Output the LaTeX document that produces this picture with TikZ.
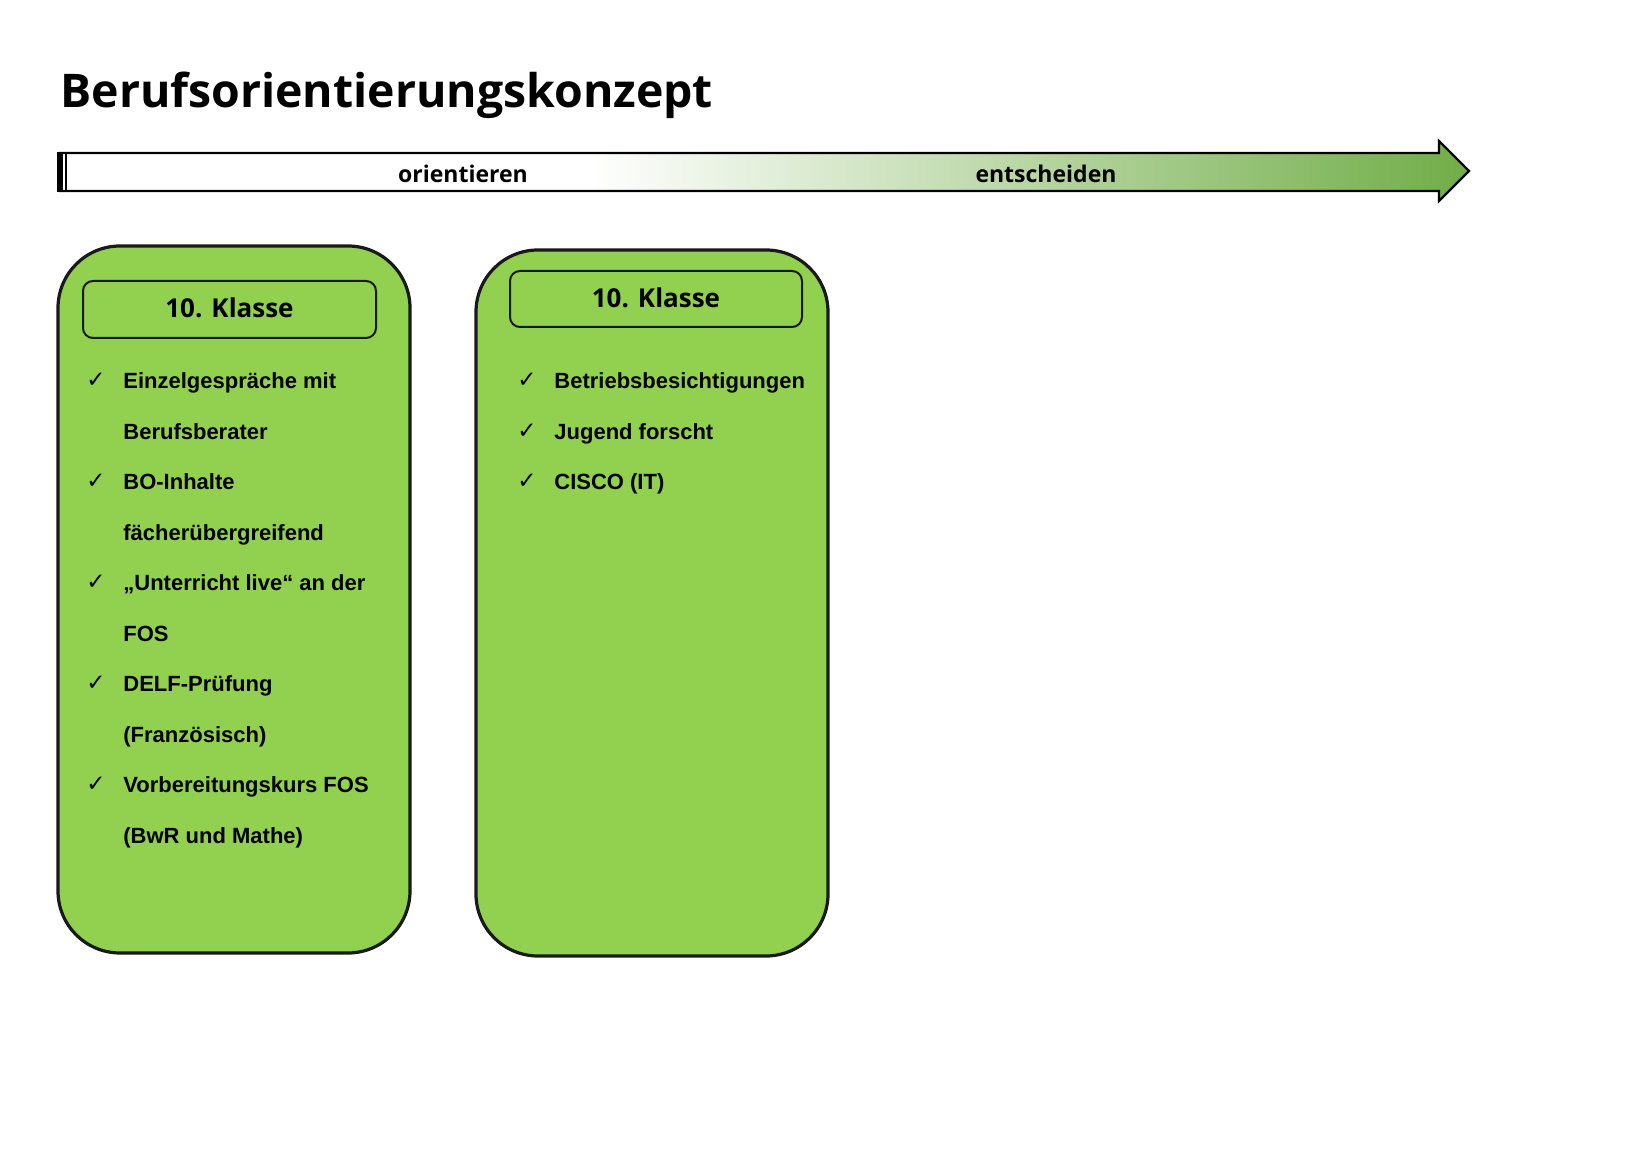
\documentclass[tikz,border=0pt]{standalone}
\usepackage{fontspec}
\setmainfont{Liberation Sans}
\newfontfamily\comicf{Open Sans}
\newfontfamily\symf{DejaVu Sans}
\definecolor{boxgreen}{RGB}{146,208,80}
\definecolor{arrowgreen}{RGB}{112,173,71}
\begin{document}
\begin{tikzpicture}[x=0.5pt,y=-0.5pt,
  bigbox/.style={draw=black!90,line width=1.6pt,fill=boxgreen,rounded corners=31pt},
  headbox/.style={draw=black!90,line width=1pt,rounded corners=5pt},
  headtxt/.style={font=\comicf\bfseries\fontsize{13}{15}\selectfont},
  item/.style={anchor=base west,inner sep=0pt,font=\bfseries\fontsize{11}{13}\selectfont},
  chk/.style={anchor=base,inner sep=0pt,font=\symf\fontsize{11.5}{13}\selectfont},
  arrtxt/.style={font=\comicf\bfseries\fontsize{11.5}{13}\selectfont}]
\useasboundingbox (0,0) rectangle (1651,1165);
\fill[white] (0,0) rectangle (1651,1165);
% title
\node[anchor=base west,inner sep=0pt,font=\comicf\bfseries\fontsize{23.2}{27}\selectfont] (title) at (60,108) {Berufsorientierungskonzept};
% arrow
\begin{scope}
\clip (60,153) -- (1439,153) -- (1439,141) -- (1469,171) -- (1439,201) -- (1439,191) -- (60,191) -- cycle;
\fill[white] (60,140) rectangle (1470,202);
\shade[left color=white,right color=arrowgreen] (590,140) rectangle (1470,202);
\end{scope}
\draw[line width=1.1pt,line join=miter] (60,153) -- (1439,153) -- (1439,141) -- (1469,171) -- (1439,201) -- (1439,191) -- (60,191) -- cycle;
\fill[black] (57,152) rectangle (63,192);
\draw[line width=0.9pt] (66,152) -- (66,192);
\node[arrtxt] (ori) at (463,174) {orientieren};
\node[arrtxt] (ent) at (1046,174) {entscheiden};
% boxes
\path[bigbox] (58,246) rectangle (410,953);
\path[bigbox] (476,250) rectangle (828,956);
\node[headbox,minimum width=146.5pt,minimum height=28.5pt] (h1) at (229.5,309.5) {};
\node[headtxt] (h1t) at (229.5,307.5) {10. Klasse};
\node[headbox,minimum width=146pt,minimum height=28pt] (h2) at (656,299) {};
\node[headtxt] (h2t) at (656,297.5) {10. Klasse};
% left items
\foreach \y/\t/\c in {389/Einzelgespräche mit/1, 439.5/Berufsberater/0, 490/BO-Inhalte/1, 540.5/fächerübergreifend/0, 591/„Unterricht live“ an der/1, 641.5/FOS/0, 692/DELF-Prüfung/1, 742.5/(Französisch)/0, 793/Vorbereitungskurs FOS/1, 843.5/(BwR und Mathe)/0}{
  \node[item] at (123,\y) {\t};
  \ifnum\c=1 \node[chk] at (96,\y-1) {✓};\fi
}
% right items
\foreach \y/\t in {389/Betriebsbesichtigungen, 439.5/Jugend forscht, 490/CISCO (IT)}{
  \node[item] at (554,\y) {\t};
  \node[chk] at (527,\y-1) {✓};
}
\end{tikzpicture}
\end{document}
